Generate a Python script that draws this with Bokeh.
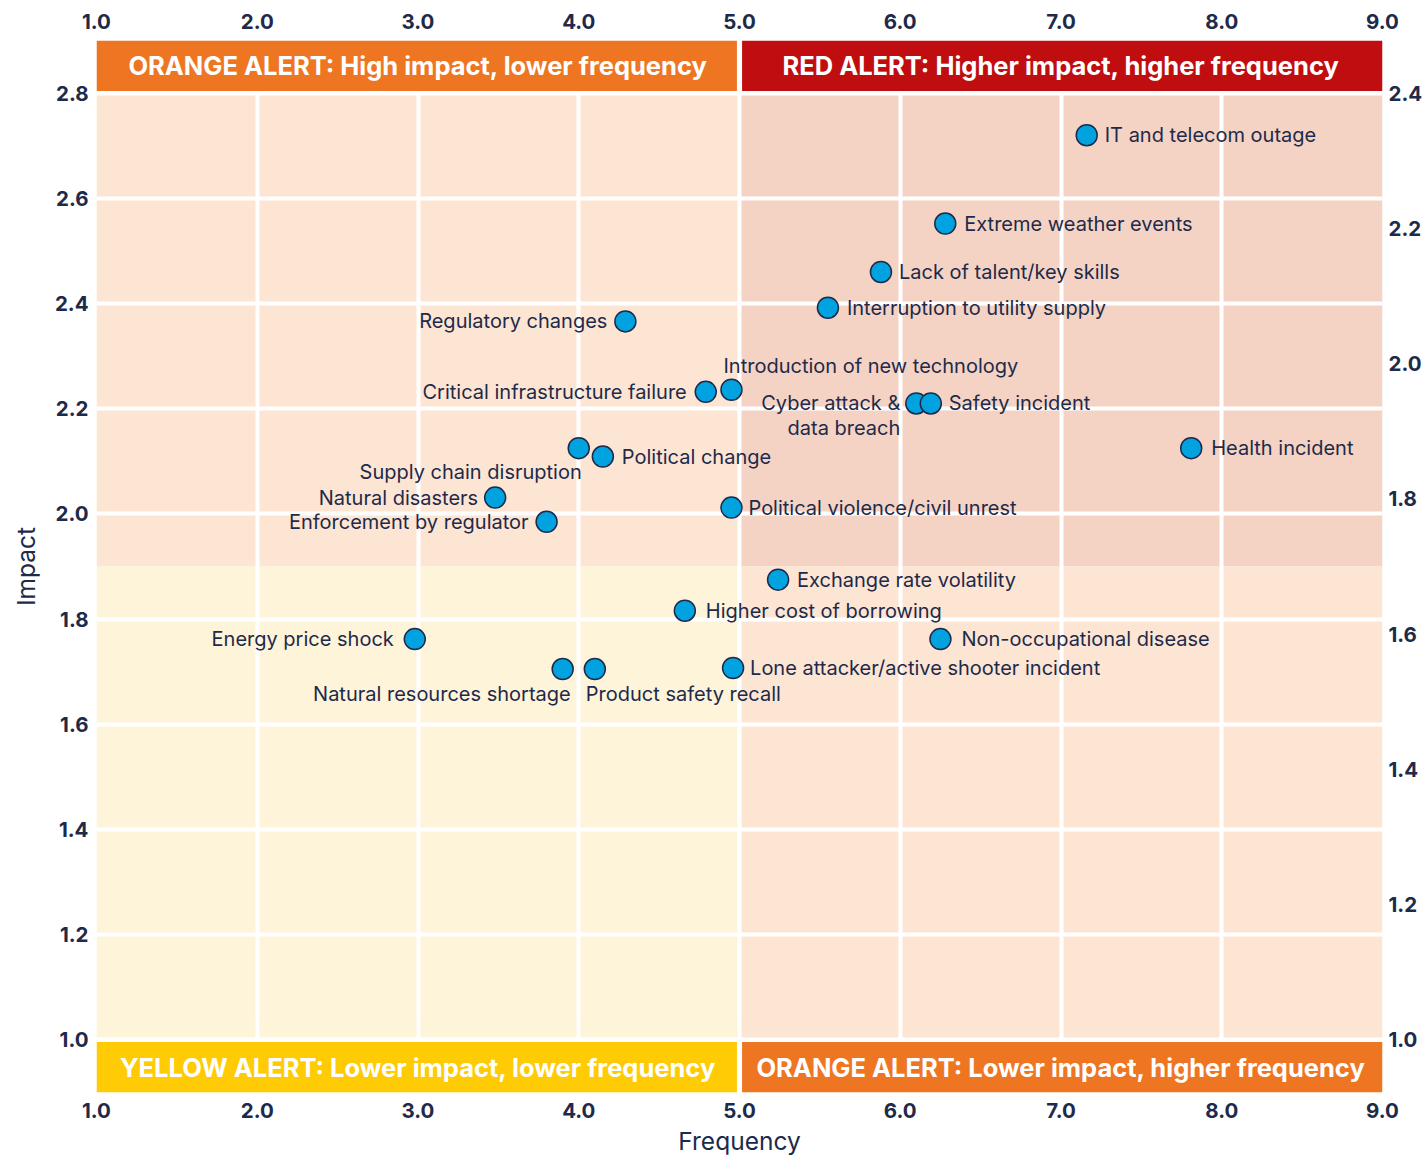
from bokeh.plotting import figure
from bokeh.models import ColumnDataSource, Range1d, LinearAxis, FixedTicker, PrintfTickFormatter
from bokeh.embed import file_html
from bokeh.resources import INLINE
from bokeh.core.properties import value

# ---------------- data ----------------
risks = [
    "IT and telecom outage", "Extreme weather events", "Lack of talent/key skills",
    "Interruption to utility supply", "Regulatory changes", "Critical infrastructure failure",
    "Introduction of new technology", "Cyber attack &\ndata breach", "Safety incident",
    "Health incident", "Supply chain disruption", "Political change", "Natural disasters",
    "Enforcement by regulator", "Political violence/civil unrest", "Exchange rate volatility",
    "Higher cost of borrowing", "Energy price shock", "Non-occupational disease",
    "Natural resources shortage", "Product safety recall", "Lone attacker/active shooter incident",
]
frequency = [7.16, 6.28, 5.88, 5.55, 4.29, 4.79, 4.95, 6.10, 6.19, 7.81, 4.00,
             4.15, 3.48, 3.80, 4.95, 5.24, 4.66, 2.98, 6.25, 3.90, 4.10, 4.96]
impact = [2.72, 2.552, 2.46, 2.392, 2.366, 2.232, 2.236, 2.21, 2.21, 2.125, 2.125,
          2.109, 2.031, 1.985, 2.012, 1.875, 1.816, 1.762, 1.762, 1.705, 1.705, 1.707]

freq_ticks = [1.0, 2.0, 3.0, 4.0, 5.0, 6.0, 7.0, 8.0, 9.0]
impact_ticks = [1.0, 1.2, 1.4, 1.6, 1.8, 2.0, 2.2, 2.4, 2.6, 2.8]
impact_right_ticks = [1.0, 1.2, 1.4, 1.6, 1.8, 2.0, 2.2, 2.4]

freq_min, freq_max, freq_split = 1.0, 9.0, 5.0
impact_min, impact_max, impact_split = 1.0, 2.8, 1.9
right_min, right_max = 1.0, 2.4

banner_texts = [
    "ORANGE ALERT: High impact, lower frequency",
    "RED ALERT: Higher impact, higher frequency",
    "YELLOW ALERT: Lower impact, lower frequency",
    "ORANGE ALERT: Lower impact, higher frequency",
]

# ---------------- label layout (screen px) ----------------
label_align = ["left", "left", "left", "left", "right", "right", "left", "right", "left",
               "left", "right", "left", "right", "right", "left", "left", "left", "right",
               "left", "right", "left", "left"]
label_dx = [18, 19, 18, 19, -18, -19, -8, -16, 18, 20, 3, 19, -17, -18, 17, 19, 21, -21,
            21, 8, -9, 17]
label_dy = [0, 0, 0, 0, 0, 0, -24, 0, 0, 0, 24, 0, 0, 0, 0, 0, 0, 0, 0, 25, 25, 0]

# ---------------- style ----------------
FONT = "Inter"
NAVY = "#1E2A4A"
ORANGE = "#EE7623"
RED = "#C00D10"
YELLOW = "#FFCB05"
PEACH = "#FDE5D4"
PEACH_DARK = "#F4D3C4"
YELLOW_LIGHT = "#FEF4DA"
BLUE = "#00A3E0"

band = 0.1  # banner band height in impact units
pad_y = 0.004
gap_x = 0.016

p = figure(width=1427, height=1158,
           x_range=Range1d(freq_min, freq_max),
           y_range=Range1d(impact_min - band, impact_max + band),
           output_backend="svg", toolbar_location=None,
           min_border_left=96, min_border_right=45, min_border_top=40, min_border_bottom=66)
p.outline_line_color = None
p.background_fill_color = "white"

scale = (right_max - right_min) / (impact_max - impact_min)
p.extra_y_ranges = {"right": Range1d(right_min - band * scale, right_max + band * scale)}

# quadrant backgrounds (below the grid)
p.quad(left=[freq_min, freq_split, freq_min, freq_split],
       right=[freq_split, freq_max, freq_split, freq_max],
       bottom=[impact_split, impact_split, impact_min, impact_min],
       top=[impact_max, impact_max, impact_split, impact_split],
       fill_color=[PEACH, PEACH_DARK, YELLOW_LIGHT, PEACH], line_color=None, level="image")

# grid
p.xgrid.ticker = FixedTicker(ticks=freq_ticks)
p.ygrid.ticker = FixedTicker(ticks=impact_ticks)
for g in (p.xgrid, p.ygrid):
    g.grid_line_color = "white"
    g.grid_line_width = 4
    g.grid_line_alpha = 1.0

# banners
p.quad(left=[freq_min, freq_split + gap_x, freq_min, freq_split + gap_x],
       right=[freq_split - gap_x, freq_max, freq_split - gap_x, freq_max],
       bottom=[impact_max + pad_y, impact_max + pad_y, impact_min - band, impact_min - band],
       top=[impact_max + band, impact_max + band, impact_min - pad_y, impact_min - pad_y],
       fill_color=[ORANGE, RED, YELLOW, ORANGE], line_color=None)
cx_left = (freq_min + freq_split) / 2
cx_right = (freq_split + freq_max) / 2
p.text(x=[cx_left, cx_right, cx_left, cx_right],
       y=[impact_max + band / 2 + pad_y / 2] * 2 + [impact_min - band / 2 - pad_y / 2] * 2,
       text=banner_texts, text_align="center", text_baseline="middle",
       text_color="white", text_font=value(FONT), text_font_style="bold",
       text_font_size="25.5px")

# points
src = ColumnDataSource(dict(x=frequency, y=impact, name=risks))
p.scatter("x", "y", source=src, size=21, fill_color=BLUE, line_color=NAVY, line_width=1.5)

# labels grouped by alignment
LABEL_SIZE = "20px"
for al in ("left", "right"):
    idx = [i for i, a in enumerate(label_align) if a == al and "\n" not in risks[i]]
    s = ColumnDataSource(dict(x=[frequency[i] for i in idx], y=[impact[i] for i in idx],
                              t=[risks[i] for i in idx], dx=[label_dx[i] for i in idx],
                              dy=[label_dy[i] for i in idx]))
    p.text("x", "y", text="t", x_offset="dx", y_offset="dy", source=s,
           text_align=al, text_baseline="middle", text_color=NAVY,
           text_font=value(FONT), text_font_size=LABEL_SIZE)

idx = [i for i, t in enumerate(risks) if "\n" in t]
s = ColumnDataSource(dict(x=[frequency[i] for i in idx], y=[impact[i] for i in idx],
                          t=[risks[i] for i in idx], dx=[label_dx[i] for i in idx],
                          dy=[label_dy[i] - 12 for i in idx]))
p.text("x", "y", text="t", x_offset="dx", y_offset="dy", source=s,
       text_align="right", text_baseline="top", text_color=NAVY, text_line_height=1.04,
       text_font=value(FONT), text_font_size=LABEL_SIZE)

# axes
def style_axis(ax):
    ax.axis_line_color = None
    ax.major_tick_line_color = None
    ax.minor_tick_line_color = None
    ax.major_tick_out = 0
    ax.major_tick_in = 0
    ax.major_label_text_font = FONT
    ax.major_label_text_font_style = "bold"
    ax.major_label_text_font_size = "20.5px"
    ax.major_label_text_color = NAVY
    ax.axis_label_text_font = FONT
    ax.axis_label_text_font_style = "normal"
    ax.axis_label_text_font_size = "24.5px"
    ax.axis_label_text_color = NAVY
    ax.formatter = PrintfTickFormatter(format="%.1f")

xb = p.xaxis[0]
xb.ticker = FixedTicker(ticks=freq_ticks)
xb.axis_label = "Frequency"
style_axis(xb)
xb.major_label_standoff = 10
xb.axis_label_standoff = 5

yl = p.yaxis[0]
yl.ticker = FixedTicker(ticks=impact_ticks)
yl.axis_label = "Impact"
style_axis(yl)
yl.major_label_standoff = 8
yl.axis_label_standoff = 11

xt = LinearAxis(ticker=FixedTicker(ticks=freq_ticks))
style_axis(xt)
xt.major_label_standoff = 12
p.add_layout(xt, "above")

yr = LinearAxis(y_range_name="right", ticker=FixedTicker(ticks=impact_right_ticks))
style_axis(yr)
yr.major_label_standoff = 6
p.add_layout(yr, "right")

open("out.html", "w").write(file_html(p, INLINE))
